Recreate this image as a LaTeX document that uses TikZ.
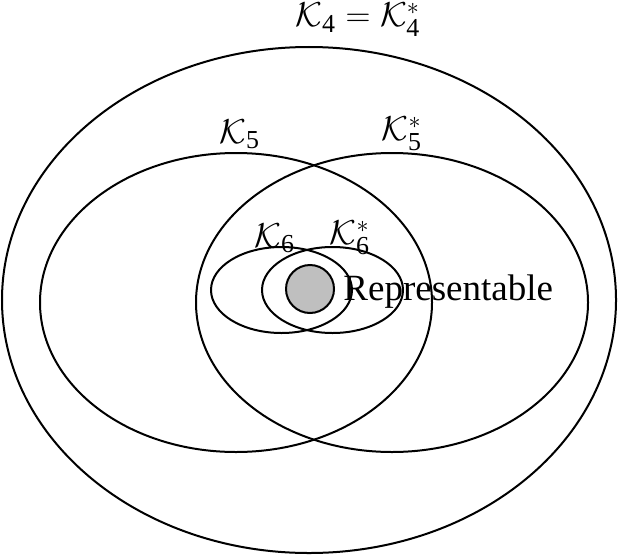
\documentclass[tikz,border=0pt]{standalone}
\usepackage{amsmath}
\usepackage{fontspec}
\setmainfont{Liberation Serif}
\newcommand{\Kc}[1]{\mathcal{K}_{\text{#1}}}
\begin{document}
\begin{tikzpicture}[x=0.5pt,y=-0.5pt,
  ring/.style={draw=black,line width=1pt},
  lbl/.style={inner sep=0pt,font=\fontsize{18.5}{22}\selectfont}]
\useasboundingbox (0,0) rectangle (619,556);
\draw[ring] (309,300) ellipse [x radius=307, y radius=253];
\draw[ring] (236,302.5) ellipse [x radius=196, y radius=149.5];
\draw[ring] (392,302.5) ellipse [x radius=196, y radius=149.5];
\draw[ring] (281.5,290) ellipse [x radius=70.5, y radius=43];
\draw[ring] (332.5,290) ellipse [x radius=70.5, y radius=43];
\draw[ring,fill=black!25] (310,289) circle [radius=24];
\node[lbl] (k4) at (358,20) {$\Kc{4}=\Kc{4}^*$};
\node[lbl] (k5) at (240,134) {$\Kc{5}$};
\node[lbl] (k5s) at (402,134) {$\Kc{5}^*$};
\node[lbl] (k6) at (275,238) {$\Kc{6}$};
\node[lbl] (k6s) at (350,238) {$\Kc{6}^*$};
\node[lbl,anchor=west] (rep) at (343,292) {Representable};
\end{tikzpicture}
\end{document}
